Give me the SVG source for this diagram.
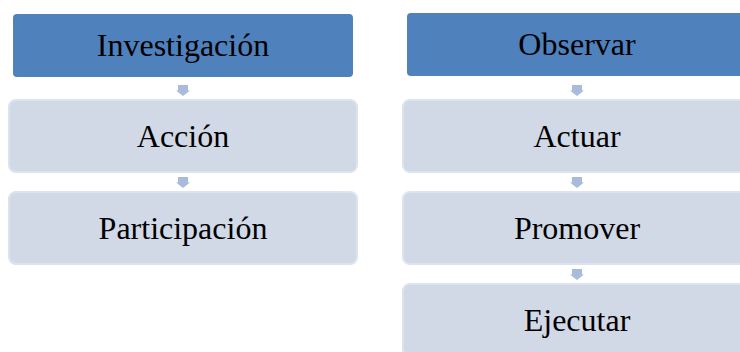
<svg xmlns="http://www.w3.org/2000/svg" width="740" height="352" viewBox="0 0 740 352">
<defs>
<style>
.hdr{fill:#4f81bd;}
.box{fill:#d1d9e7;stroke:#dde3ee;stroke-width:2;}
.arr{fill:#a9bbda;}
.t{font-family:"Liberation Serif","Times New Roman",serif;font-size:32px;fill:#000;text-anchor:middle;}
</style>
<path id="dn" d="M-5,0 H5 V5.5 H7 L0,11 L-7,5.5 H-5 Z"/>
</defs>
<rect width="740" height="352" fill="#ffffff"/>
<g id="connectors">
<use href="#dn" class="arr" x="183" y="85"/>
<use href="#dn" class="arr" x="183" y="177"/>
<use href="#dn" class="arr" x="577" y="85"/>
<use href="#dn" class="arr" x="577" y="177"/>
<use href="#dn" class="arr" x="577" y="269"/>
</g>
<g id="investigacion">
<rect class="hdr" x="13" y="14" width="340" height="63" rx="4"/>
<text class="t" x="183" y="56">Investigación</text>
</g>
<g id="accion">
<rect class="box" x="9" y="100" width="348" height="72" rx="7"/>
<text class="t" x="183" y="147">Acción</text>
</g>
<g id="participacion">
<rect class="box" x="9" y="192" width="348" height="72" rx="7"/>
<text class="t" x="183" y="239">Participación</text>
</g>
<g id="observar">
<rect class="hdr" x="407" y="13" width="340" height="63" rx="4"/>
<text class="t" x="577" y="55">Observar</text>
</g>
<g id="actuar">
<rect class="box" x="403" y="100" width="348" height="72" rx="7"/>
<text class="t" x="577" y="147">Actuar</text>
</g>
<g id="promover">
<rect class="box" x="403" y="192" width="348" height="72" rx="7"/>
<text class="t" x="577" y="239">Promover</text>
</g>
<g id="ejecutar">
<rect class="box" x="403" y="284" width="348" height="72" rx="7"/>
<text class="t" x="577" y="331">Ejecutar</text>
</g>
</svg>
